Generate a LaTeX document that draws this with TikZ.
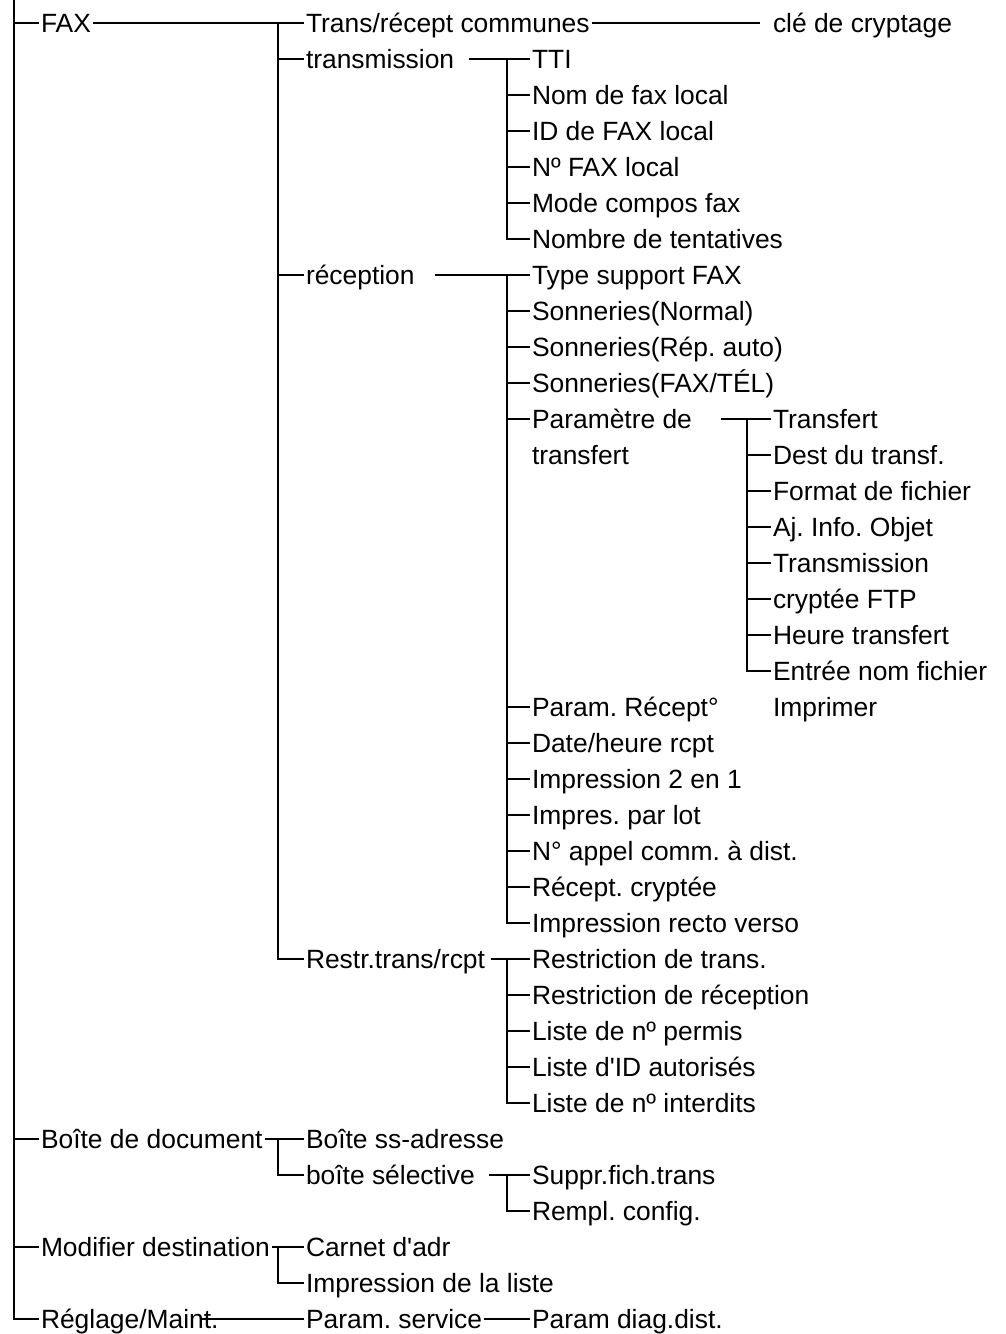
\documentclass[tikz,border=0pt]{standalone}
\usepackage{fontspec}
\setmainfont{Liberation Sans}
\usepackage{tikz}
\frenchspacing

\begin{document}
\begin{tikzpicture}[x=1pt, y=-1pt, font=\fontsize{26.4}{32}\selectfont,
  item/.style={anchor=west, inner xsep=2pt, inner ysep=0pt, outer sep=0pt,
    text height=18.9pt, text depth=0pt},
  link/.style={line width=1.8pt}]
\useasboundingbox (0,0) rectangle (1006,1334);
% level 1
\node[item] (fax) at (39,23) {FAX};
\node[item] (bdd) at (39,1139) {Boîte de document};
\node[item] (mdd) at (39,1247) {Modifier destination};
\node[item] (rgm) at (39,1319) {Réglage/Maint.};
% level 2
\node[item] (trc) at (304,23) {Trans/récept communes};
\node[item] (trm) at (304,59) {transmission};
\node[item] (rec) at (304,275) {réception};
\node[item] (rtr) at (304,959) {Restr.trans/rcpt};
\node[item] (bsa) at (304,1139) {Boîte ss-adresse};
\node[item] (bse) at (304,1175) {boîte sélective};
\node[item] (cad) at (304,1247) {Carnet d\textquotesingle adr};
\node[item] (idl) at (304,1283) {Impression de la liste};
\node[item] (psv) at (304,1319) {Param. service};
% level 3
\node[item] (tti) at (530,59) {TTI};
\node[item] (nfl) at (530,95) {Nom de fax local};
\node[item] (idf) at (530,131) {ID de FAX local};
\node[item] (nfx) at (530,167) {Nº FAX local};
\node[item] (mcf) at (530,203) {Mode compos fax};
\node[item] (ndt) at (530,239) {Nombre de tentatives};
\node[item] (tsf) at (530,275) {Type support FAX};
\node[item] (snn) at (530,311) {Sonneries(Normal)};
\node[item] (sra) at (530,347) {Sonneries(Rép. auto)};
\node[item] (sft) at (530,383) {Sonneries(FAX/TÉL)};
\node[item] (pdt) at (530,419) {Paramètre de};
\node[item] (pdt2) at (530,455) {transfert};
\node[item] (prc) at (530,707) {Param. Récept°};
\node[item] (dhr) at (530,743) {Date/heure rcpt};
\node[item] (i21) at (530,779) {Impression 2 en 1};
\node[item] (ipl) at (530,815) {Impres. par lot};
\node[item] (nac) at (530,851) {N° appel comm. à dist.};
\node[item] (rcc) at (530,887) {Récept. cryptée};
\node[item] (irv) at (530,923) {Impression recto verso};
\node[item] (rdt) at (530,959) {Restriction de trans.};
\node[item] (rdr) at (530,995) {Restriction de réception};
\node[item] (lnp) at (530,1031) {Liste de nº permis};
\node[item] (lia) at (530,1067) {Liste d\textquotesingle ID autorisés};
\node[item] (lni) at (530,1103) {Liste de nº interdits};
\node[item] (sfx) at (530,1175) {Suppr.fich.trans};
\node[item] (rcf) at (530,1211) {Rempl. config.};
\node[item] (pdd) at (530,1319) {Param diag.dist.};
% level 4
\node[item] (cle) at (771,23) {clé de cryptage};
\node[item] (tsp) at (771,419) {Transfert};
\node[item] (dtr) at (771,455) {Dest du transf.};
\node[item] (fdf) at (771,491) {Format de fichier};
\node[item] (aio) at (771,527) {Aj. Info. Objet};
\node[item] (tms) at (771,563) {Transmission};
\node[item] (cft) at (771,599) {cryptée FTP};
\node[item] (htr) at (771,635) {Heure transfert};
\node[item] (enf) at (771,671) {Entrée nom fichier};
\node[item] (imp) at (771,707) {Imprimer};
% bus points
\coordinate (top) at (14,0);
\coordinate (b1) at (278,23);
\coordinate (b2) at (507,59);
\coordinate (b3) at (507,275);
\coordinate (b4) at (747,419);
\coordinate (b5) at (507,959);
\coordinate (b6) at (278,1139);
\coordinate (b7) at (507,1175);
\coordinate (b8) at (278,1247);
% root
\draw[link] (top) |- (rgm.west);
\draw[link] (fax.west -| top) -- (fax.west);
\draw[link] (bdd.west -| top) -- (bdd.west);
\draw[link] (mdd.west -| top) -- (mdd.west);
% FAX
\draw[link] (fax.east) -- (trc.west);
\draw[link] (b1) |- (rtr.west);
\draw[link] (trm.west -| b1) -- (trm.west);
\draw[link] (rec.west -| b1) -- (rec.west);
\draw[link] (trc.east) -- ([xshift=-11pt]cle.west);
% transmission
\draw[link] ([xshift=13pt]trm.east) -- (tti.west);
\draw[link] (b2) |- (ndt.west);
\draw[link] (nfl.west -| b2) -- (nfl.west);
\draw[link] (idf.west -| b2) -- (idf.west);
\draw[link] (nfx.west -| b2) -- (nfx.west);
\draw[link] (mcf.west -| b2) -- (mcf.west);
% reception
\draw[link] ([xshift=18pt]rec.east) -- (tsf.west);
\draw[link] (b3) |- (irv.west);
\draw[link] (snn.west -| b3) -- (snn.west);
\draw[link] (sra.west -| b3) -- (sra.west);
\draw[link] (sft.west -| b3) -- (sft.west);
\draw[link] (pdt.west -| b3) -- (pdt.west);
\draw[link] (prc.west -| b3) -- (prc.west);
\draw[link] (dhr.west -| b3) -- (dhr.west);
\draw[link] (i21.west -| b3) -- (i21.west);
\draw[link] (ipl.west -| b3) -- (ipl.west);
\draw[link] (nac.west -| b3) -- (nac.west);
\draw[link] (rcc.west -| b3) -- (rcc.west);
% transfert
\draw[link] ([xshift=27pt]pdt.east) -- (tsp.west);
\draw[link] (b4) |- (enf.west);
\draw[link] (dtr.west -| b4) -- (dtr.west);
\draw[link] (fdf.west -| b4) -- (fdf.west);
\draw[link] (aio.west -| b4) -- (aio.west);
\draw[link] (tms.west -| b4) -- (tms.west);
\draw[link] (cft.west -| b4) -- (cft.west);
\draw[link] (htr.west -| b4) -- (htr.west);
% restrictions
\draw[link] ([xshift=4pt]rtr.east) -- (rdt.west);
\draw[link] (b5) |- (lni.west);
\draw[link] (rdr.west -| b5) -- (rdr.west);
\draw[link] (lnp.west -| b5) -- (lnp.west);
\draw[link] (lia.west -| b5) -- (lia.west);
% boite de document
\draw[link] (bdd.east) -- (bsa.west);
\draw[link] (b6) |- (bse.west);
\draw[link] ([xshift=12pt]bse.east) -- (sfx.west);
\draw[link] (b7) |- (rcf.west);
% modifier destination
\draw[link] (mdd.east) -- (cad.west);
\draw[link] (b8) |- (idl.west);
% reglage
\draw[link] ([xshift=-20pt]rgm.east) -- (psv.west);
\draw[link] (psv.east) -- (pdd.west);
\end{tikzpicture}
\end{document}
